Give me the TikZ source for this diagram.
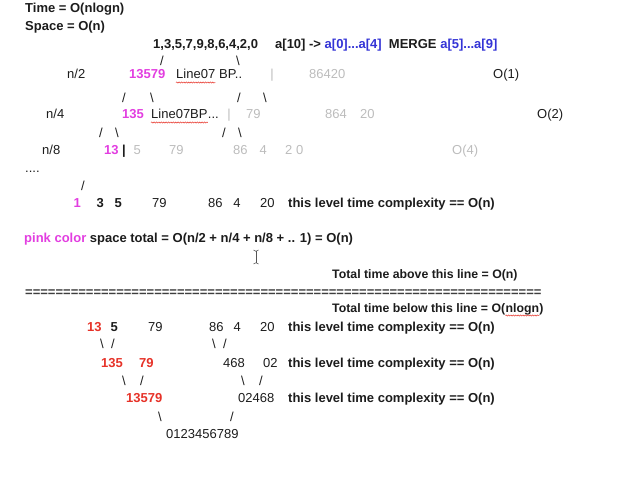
\documentclass[tikz,border=0pt]{standalone}
\usepackage{fontspec}
\setmainfont{Liberation Sans}
\usepackage{tikz}
\usetikzlibrary{decorations.pathmorphing}

\definecolor{ink}{RGB}{28,28,28}
\definecolor{pinkc}{RGB}{226,62,224}
\definecolor{bluec}{RGB}{52,52,214}
\definecolor{redc}{RGB}{230,50,40}
\definecolor{grayc}{RGB}{188,188,188}

\begin{document}
\begin{tikzpicture}[x=1pt, y=-1pt,
  every node/.style={inner sep=0pt, anchor=base west, text=ink, font=\fontsize{13}{15}\selectfont},
  bold/.style={font=\fontsize{13}{15}\selectfont\bfseries},
  totalf/.style={font=\fontsize{12.3}{15}\selectfont\bfseries},
  pinkb/.style={bold, text=pinkc},
  redb/.style={bold, text=redc},
  faint/.style={text=grayc},
  sl/.style={anchor=base},
  wavy/.style={draw=redc, line width=0.5pt, decorate, decoration={snake, amplitude=0.6pt, segment length=2.4pt}}]

  \useasboundingbox (0,-1) rectangle (631,498);

  % Tiêu đề
  \node[bold] (time) at (25,11.5) {Time = O(nlogn)};
  \node[bold] (space) at (25,29.5) {Space = O(n)};

  % Mảng ban đầu
  \node[bold] (arr) at (153,47.5) {1,3,5,7,9,8,6,4,2,0};
  \node[bold] (merge) at (275,47.5) {a[10] -> \textcolor{bluec}{a[0]...a[4]}\ \ MERGE \textcolor{bluec}{a[5]...a[9]}};
  \node[sl] (s1) at (162,64.5) {/};
  \node[sl] (s2) at (238,64.5) {\textbackslash};

  % Hàng n/2
  \node (n2) at (67,77.5) {n/2};
  \node[pinkb] (p2) at (129,77.5) {13579};
  \node (w2) at (176,77.5) {Line07};
  \node (w2b) at ([xshift=3.6]w2.base east) {BP..};
  \node[sl, faint] (b2) at (272,77.5) {|};
  \node[faint] (g2) at (309,77.5) {86420};
  \node (o1) at (493,77.5) {O(1)};
  \draw[wavy] ([yshift=-4]w2.base west) -- ([yshift=-4]w2.base east);
  \node[sl] (s3) at (124,101.5) {/};
  \node[sl] (s4) at (152,101.5) {\textbackslash};
  \node[sl] (s5) at (239,101.5) {/};
  \node[sl] (s6) at (265,101.5) {\textbackslash};

  % Hàng n/4
  \node (n4) at (46,117.5) {n/4};
  \node[pinkb] (p4) at (122,117.5) {135};
  \node (w4) at (151,117.5) {Line07BP};
  \node (w4b) at (w4.base east) {...};
  \node[sl, faint] (b4) at (229,117.5) {|};
  \node[faint] (g4a) at (246,117.5) {79};
  \node[faint] (g4b) at (325,117.5) {864};
  \node[faint] (g4c) at (360,117.5) {20};
  \node (o2) at (537,117.5) {O(2)};
  \draw[wavy] ([yshift=-4]w4.base west) -- ([yshift=-4]w4.base east);
  \node[sl] (s7) at (101,136.5) {/};
  \node[sl] (s8) at (117,136.5) {\textbackslash};
  \node[sl] (s9) at (224,136.5) {/};
  \node[sl] (s10) at (240,136.5) {\textbackslash};

  % Hàng n/8
  \node (n8) at (42,153.5) {n/8};
  \node[pinkb] (p8) at (104,153.5) {13};
  \node[sl, bold] (b8) at (124,153.5) {|};
  \node[faint] (g8a) at (133.5,153.5) {5};
  \node[faint] (g8b) at (169,153.5) {79};
  \node[faint] (g8c) at (233,153.5) {86};
  \node[faint] (g8d) at (259.5,153.5) {4};
  \node[faint] (g8e) at (285,153.5) {2 0};
  \node[faint] (o4) at (452,153.5) {O(4)};
  \node (dots) at (25,171.5) {....};
  \node[sl] (s11) at (83,189.5) {/};

  % Hàng lá
  \node[pinkb] (l1) at (73.4,206.5) {1};
  \node[bold] (l3) at (96.4,206.5) {3};
  \node[bold] (l5) at (114.4,206.5) {5};
  \node (l79) at (152,206.5) {79};
  \node (l86) at (208,206.5) {86};
  \node (l4) at (233.2,206.5) {4};
  \node (l20) at (260,206.5) {20};
  \node[bold] (c1) at (288,206.5) {this level time complexity == O(n)};

  % Tổng bộ nhớ
  \node[bold] (tot) at (24,241.5) {\textcolor{pinkc}{pink color} space total = O(n/2 + n/4 + n/8 + .. 1) = O(n)};
  \draw[ink!75, line width=0.9pt] (256,250) -- (256,262);
  \draw[ink!75, line width=0.6pt] (253.5,249) -- (256,250.3) -- (258.5,249);
  \draw[ink!75, line width=0.6pt] (253.5,263) -- (256,261.7) -- (258.5,263);

  % Đường phân cách
  \node[totalf] (above) at (332,277.5) {Total time above this line = O(n)};
  \node[bold, text=ink!85] (sep) at (25,295.5) {====================================================================};
  \node[totalf] (below) at (332,311.5) {Total time below this line = O(};
  \node[totalf] (nl) at (below.base east) {nlogn};
  \node[totalf] (bp) at (nl.base east) {)};
  \draw[wavy] ([yshift=-3]nl.base west) -- ([yshift=-3]nl.base east);

  % Trộn lại từ dưới lên
  \node[redb] (r13) at (87,330.5) {13};
  \node[bold] (r5) at (110.4,330.5) {5};
  \node (r79) at (148,330.5) {79};
  \node (r86) at (209,330.5) {86};
  \node (r4) at (233.4,330.5) {4};
  \node (r20) at (260,330.5) {20};
  \node[bold] (c2) at (288,330.5) {this level time complexity == O(n)};
  \node[sl] (t1) at (102,347.5) {\textbackslash};
  \node[sl] (t2) at (113,347.5) {/};
  \node[sl] (t3) at (214,347.5) {\textbackslash};
  \node[sl] (t4) at (225,347.5) {/};

  \node[redb] (m135) at (101,366.5) {135};
  \node[redb] (m79) at (139,366.5) {79};
  \node (m468) at (223,366.5) {468};
  \node (m02) at (263,366.5) {02};
  \node[bold] (c3) at (288,366.5) {this level time complexity == O(n)};
  \node[sl] (t5) at (124,384.5) {\textbackslash};
  \node[sl] (t6) at (142,384.5) {/};
  \node[sl] (t7) at (243,384.5) {\textbackslash};
  \node[sl] (t8) at (261,384.5) {/};

  \node[redb] (h1) at (126,401.5) {13579};
  \node (h2) at (238,401.5) {02468};
  \node[bold] (c4) at (288,401.5) {this level time complexity == O(n)};
  \node[sl] (t9) at (160,420.5) {\textbackslash};
  \node[sl] (t10) at (232,420.5) {/};

  \node (res) at (166,437.5) {0123456789};
\end{tikzpicture}
\end{document}
